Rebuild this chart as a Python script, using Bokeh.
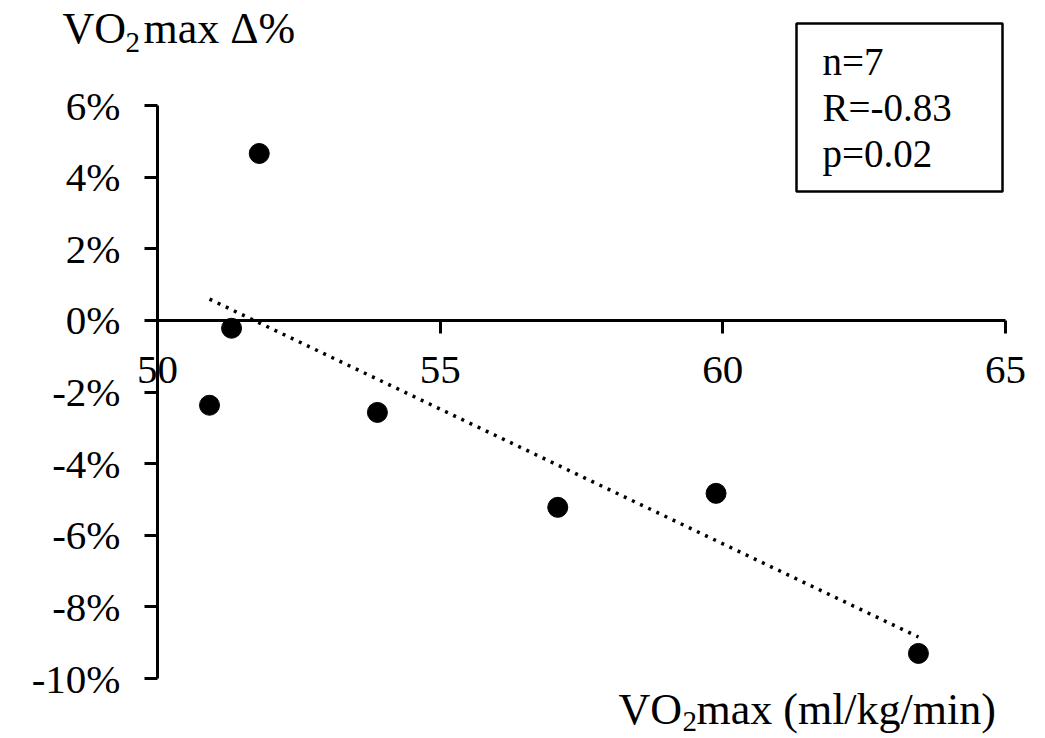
from bokeh.plotting import figure
from bokeh.models import Label, BoxAnnotation, FixedTicker, NumeralTickFormatter
from bokeh.embed import file_html
from bokeh.resources import INLINE
import numpy as np

# data
vo2max = [50.92, 51.31, 51.80, 53.89, 57.08, 59.88, 63.46]
delta_pct = [-0.0237, -0.0022, 0.0466, -0.0257, -0.0522, -0.0483, -0.0930]
x_ticks = [50, 55, 60, 65]
y_ticks = [-0.10, -0.08, -0.06, -0.04, -0.02, 0.0, 0.02, 0.04, 0.06]
stats_lines = ["n=7", "R=-0.83", "p=0.02"]

FONT = "Liberation Serif"
W, H = 1029, 738
# pixel positions of the axis extents on the canvas
PX_X0, PX_X1 = 157, 1005   # x = 50 .. 65
PX_Y0, PX_Y1 = 678, 105    # y = -10% .. 6%
XMIN, XMAX = 50, 65
YMIN, YMAX = -0.10, 0.06

kx = (XMAX - XMIN) / (PX_X1 - PX_X0)
ky = (YMAX - YMIN) / (PX_Y0 - PX_Y1)
x_range = (XMIN - PX_X0 * kx, XMAX + (W - PX_X1) * kx)
y_range = (YMIN - (H - PX_Y0) * ky, YMAX + PX_Y1 * ky)

p = figure(width=W, height=H, output_backend="svg", toolbar_location=None,
           x_range=x_range, y_range=y_range,
           min_border_left=0, min_border_right=0,
           min_border_top=0, min_border_bottom=0)
p.outline_line_color = None
p.grid.visible = False
p.background_fill_color = "white"
p.border_fill_color = "white"

# x axis crossing at y=0
xa = p.xaxis[0]
xa.fixed_location = 0
xa.bounds = (XMIN, XMAX)
xa.ticker = FixedTicker(ticks=x_ticks)
xa.minor_tick_line_color = None
xa.axis_line_width = 3
xa.major_tick_line_width = 3
xa.major_tick_in = 0
xa.major_tick_out = 13
xa.major_label_standoff = 24
xa.major_label_text_font = FONT
xa.major_label_text_font_size = "41px"
xa.major_label_text_color = "black"
xa.axis_line_color = "black"
xa.major_tick_line_color = "black"

# y axis at x=50
ya = p.yaxis[0]
ya.fixed_location = XMIN
ya.bounds = (YMIN, YMAX)
ya.ticker = FixedTicker(ticks=y_ticks)
ya.formatter = NumeralTickFormatter(format="0%")
ya.minor_tick_line_color = None
ya.axis_line_width = 3
ya.major_tick_line_width = 3
ya.major_tick_in = 0
ya.major_tick_out = 13
ya.major_label_standoff = 24
ya.major_label_text_font = FONT
ya.major_label_text_font_size = "41px"
ya.major_label_text_color = "black"
ya.axis_line_color = "black"
ya.major_tick_line_color = "black"

# trend line (least squares of the data)
m, b = np.polyfit(vo2max, delta_pct, 1)
tx = [min(vo2max), max(vo2max)]
ty = [m * v + b for v in tx]
p.line(tx, ty, line_color="black", line_width=3.5, line_dash="3 6")

p.scatter(vo2max, delta_pct, size=20, color="black")

# helpers: canvas pixel coords (top-left origin) -> screen units
def sx(ix):
    return ix
def sy(iy):
    return H - iy

def lab(text, ix, iy, size):
    # iy is the wanted baseline; compensate the renderer's baseline offset
    adj = iy - 0.33 * size
    p.add_layout(Label(x=sx(ix), y=sy(adj), x_units="screen", y_units="screen",
                       text=text, text_font=FONT, text_font_size=f"{size}px",
                       text_baseline="alphabetic", text_color="black"))

# y title
lab("VO", 62, 43, 44)
lab("2", 125, 52, 29)
lab("max Δ%", 143, 43, 44)
# x title
lab("VO", 618, 724, 44)
lab("2", 682, 731, 29)
lab("max (ml/kg/min)", 696, 724, 44)

# stats box
p.add_layout(BoxAnnotation(left=sx(796), right=sx(1002), top=sy(23), bottom=sy(191),
                           left_units="screen", right_units="screen",
                           top_units="screen", bottom_units="screen",
                           fill_alpha=0, line_color="black", line_width=2.5,
                           line_alpha=1))
for i, t in enumerate(stats_lines):
    lab(t, 822, 74 + 46 * i, 39)

open("out.html", "w").write(file_html(p, INLINE))
